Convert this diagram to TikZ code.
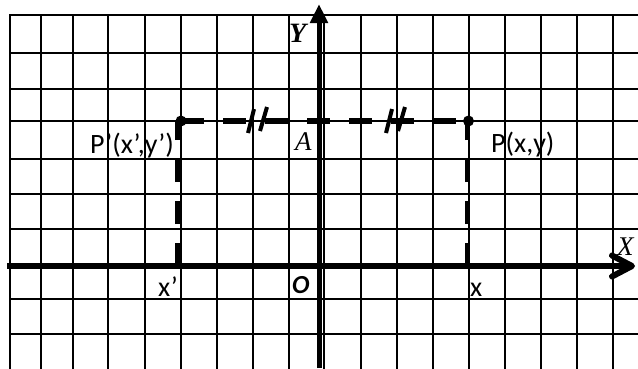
\documentclass[tikz,border=0pt]{standalone}
\usepackage{fontspec}
\setmainfont{Liberation Serif}
\setsansfont{Carlito}
\usepackage{tikz}
\usetikzlibrary{arrows.meta}
\definecolor{ink}{HTML}{000000}
\tikzset{
  gridline/.style={draw=ink,line width=2.8pt,line cap=rect},
  axis/.style={draw=ink,line width=6pt},
  guide/.style={draw=ink,line width=5.5pt,dash pattern=on 23pt off 19pt},
  tick/.style={draw=ink,line width=4pt},
  dot/.style={circle,fill=ink,minimum size=11pt,inner sep=0pt},
  sanslbl/.style={font=\sffamily\fontsize{28}{30}\selectfont,inner sep=0pt,anchor=base west},
  seriflbl/.style={font=\itshape\fontsize{27}{29}\selectfont,inner sep=0pt,anchor=base west},
}

\begin{document}
\begin{tikzpicture}[x=1pt,y=-1pt]
  \fill[white] (0,0) rectangle (638,368);
  \useasboundingbox (0,0) rectangle (638,368);
  % squared paper
  \foreach \x in {10,41,73,108,145,181,217,253,289,324,361,397,433,469,505,541,577,613}
    {\draw[gridline] (\x,15)--(\x,368);}
  \foreach \y in {15,53,89,121,159,194,229,299,334}
    {\draw[gridline] (10,\y)--(638,\y);}
  % axes
  \coordinate (xl) at (7,266);
  \coordinate (xr) at (635,266);
  \coordinate (yb) at (319,368);
  \coordinate (yt) at (319,4);
  \draw[axis,-{Straight Barb[length=20pt,width=21pt,round]}] (xl)--(xr);
  \draw[axis,line width=5pt,-{Triangle[length=19pt,width=17pt]}] (yb)--(yt);
  % the two points and their dashed guides
  \node[dot] (Pp) at (181,121) {};
  \node[dot] (P) at (468.5,121) {};
  \coordinate (xpfoot) at (178,266);
  \coordinate (xfoot) at (467.5,266);
  \draw[guide] (Pp.center)--(P.center);
  \draw[guide] (xpfoot)--(xpfoot |- Pp);
  \draw[guide] (xfoot)--(xfoot |- P);
  % equal-length marks
  \foreach \c in {257,395}
    {\draw[tick] (\c-9,133)--(\c-3,109);
     \draw[tick] (\c+3,131)--(\c+10,107);}
  % labels
  \node[sanslbl] (lPp) at (90,153) {P’(x’,y’)};
  \node[sanslbl] (lP) at (491,152) {P(x,y)};
  \node[sanslbl] (lxp) at (158,296) {x’};
  \node[sanslbl] (lx) at (470,296) {x};
  \node[sanslbl,font=\sffamily\bfseries\itshape\fontsize{26}{28}\selectfont] (lO) at (292,293) {O};
  \node[seriflbl] (lA) at (295,150) {A};
  \node[seriflbl,font=\bfseries\itshape\fontsize{28}{30}\selectfont] (lY) at (289,42) {Y};
  \node[seriflbl] (lX) at (617,255) {X};
\end{tikzpicture}
\end{document}
